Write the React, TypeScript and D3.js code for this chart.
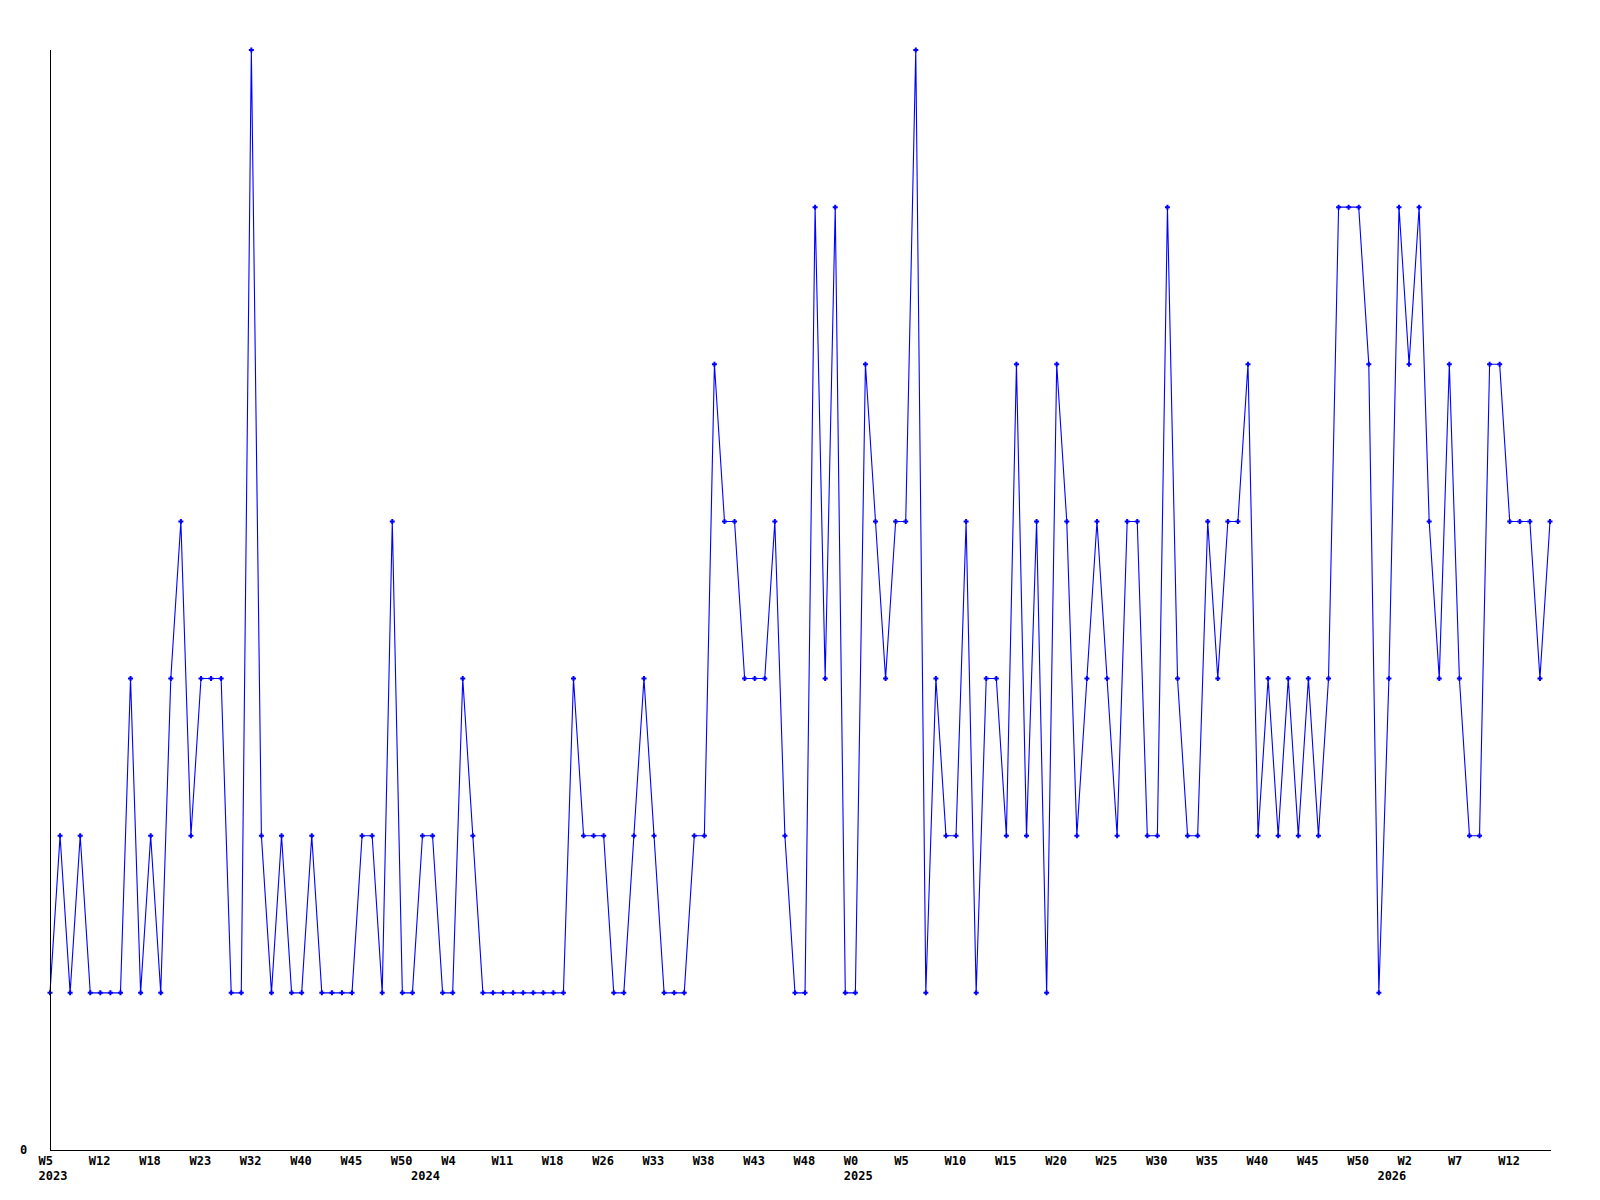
import React from "react";
import * as d3 from "d3";

const values: number[] = [
  1, 2, 1, 2, 1, 1, 1, 1, 3, 1,
  2, 1, 3, 4, 2, 3, 3, 3, 1, 1,
  7, 2, 1, 2, 1, 1, 2, 1, 1, 1,
  1, 2, 2, 1, 4, 1, 1, 2, 2, 1,
  1, 3, 2, 1, 1, 1, 1, 1, 1, 1,
  1, 1, 3, 2, 2, 2, 1, 1, 2, 3,
  2, 1, 1, 1, 2, 2, 5, 4, 4, 3,
  3, 3, 4, 2, 1, 1, 6, 3, 6, 1,
  1, 5, 4, 3, 4, 4, 7, 1, 3, 2,
  2, 4, 1, 3, 3, 2, 5, 2, 4, 1,
  5, 4, 2, 3, 4, 3, 2, 4, 4, 2,
  2, 6, 3, 2, 2, 4, 3, 4, 4, 5,
  2, 3, 2, 3, 2, 3, 2, 3, 6, 6,
  6, 5, 1, 3, 6, 5, 6, 4, 3, 5,
  3, 2, 2, 5, 5, 4, 4, 4, 3, 4,
];

const tickIndex: number[] = [
  0, 5, 10, 15, 20, 25, 30, 35, 40, 45, 50, 55, 60, 65, 70, 75, 80, 85, 90,
  95, 100, 105, 110, 115, 120, 125, 130, 135, 140, 145,
];
const tickLabels: string[] = [
  "W5", "W12", "W18", "W23", "W32", "W40", "W45", "W50", "W4", "W11", "W18",
  "W26", "W33", "W38", "W43", "W48", "W0", "W5", "W10", "W15", "W20", "W25",
  "W30", "W35", "W40", "W45", "W50", "W2", "W7", "W12",
];
const yearIndex: number[] = [0, 37, 80, 133];
const yearLabels: string[] = ["2023", "2024", "2025", "2026"];
const yTicks: number[] = [0];
const yMax = 7;

export default function App() {
  const W = 1600;
  const H = 1200;
  const left = 50;
  const right = 1550;
  const top = 50;
  const bottom = 1150;

  const x = d3.scaleLinear().domain([0, values.length - 1]).range([left, right]);
  const y = d3.scaleLinear().domain([0, yMax]).range([bottom, top]);

  const line = d3
    .line<number>()
    .x((_, i) => x(i))
    .y((d) => y(d));

  const font = "'DejaVu Sans Mono', monospace";

  return (
    <svg
      width={W}
      height={H}
      style={{ position: "absolute", left: 0, top: 0, background: "#fff" }}
    >
      <rect x={0} y={0} width={W} height={H} fill="#fff" />
      <path d={line(values) || ""} fill="none" stroke="#0000ff" strokeWidth={1.1} />
      {values.map((v, i) => {
        const cx = x(i);
        const cy = y(v);
        return (
          <path
            key={i}
            d={`M${cx - 2.5},${cy}H${cx + 2.5}M${cx},${cy - 2.5}V${cy + 2.5}`}
            stroke="#0000ff"
            strokeWidth={2}
            fill="none"
          />
        );
      })}
      <line
        x1={left + 0.5}
        x2={left + 0.5}
        y1={top}
        y2={bottom + 0.5}
        stroke="#000"
        strokeWidth={1}
      />
      <line
        x1={left}
        x2={right + 1}
        y1={bottom + 0.5}
        y2={bottom + 0.5}
        stroke="#000"
        strokeWidth={1}
      />
      {yTicks.map((t) => (
        <text
          key={"y" + t}
          x={20}
          y={y(t) + 4}
          fontFamily={font}
          fontWeight="bold"
          fontSize={12}
          fill="#000"
        >
          {String(t)}
        </text>
      ))}
      {tickIndex.map((ti, k) => (
        <text
          key={"t" + k}
          x={x(ti) - 11.5}
          y={1165}
          fontFamily={font}
          fontWeight="bold"
          fontSize={12}
          fill="#000"
        >
          {tickLabels[k]}
        </text>
      ))}
      {yearIndex.map((yi, k) => (
        <text
          key={"yr" + k}
          x={x(yi) - 11.5}
          y={1180}
          fontFamily={font}
          fontWeight="bold"
          fontSize={12}
          fill="#000"
        >
          {yearLabels[k]}
        </text>
      ))}
    </svg>
  );
}
